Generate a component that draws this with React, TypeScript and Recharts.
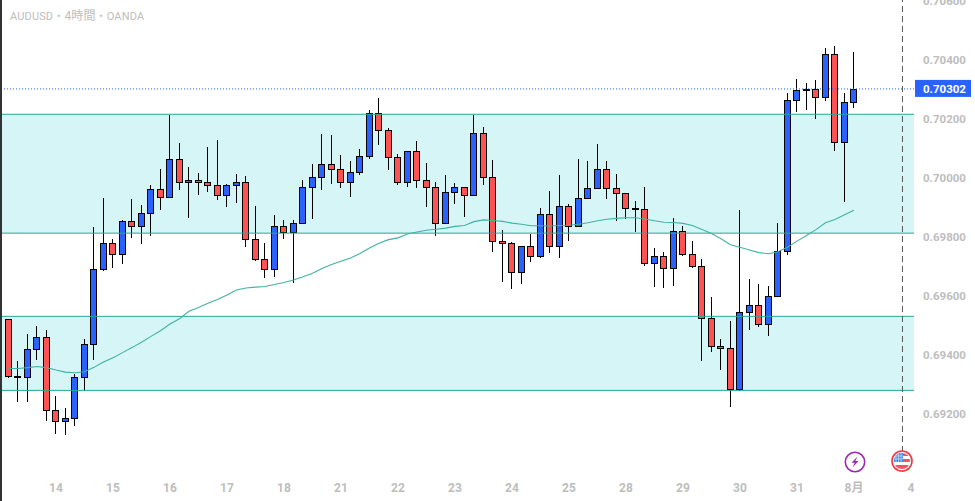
import {
  Bar,
  ComposedChart,
  Line,
  ReferenceArea,
  ReferenceLine,
  XAxis,
  YAxis,
} from 'recharts'

// prices in 1e-5 units, one entry per 4h candle
const opens = [
  69523, 69330, 69327, 69419, 69460, 69215, 69175, 69188, 69327, 69436,
  69690, 69778, 69744, 69853, 69836, 69880, 69961, 69934, 70063, 69985,
  69992, 69985, 69975, 69941, 69975, 69988, 69792, 69727, 69693, 69836,
  69816, 69846, 69968, 70005, 70046, 70032, 69988, 70019, 70076, 70222,
  70161, 70070, 69985, 70090, 69992, 69971, 69846, 69954, 69968, 69941,
  70151, 70005, 69788, 69778, 69680, 69768, 69734, 69877, 69768, 69904,
  69836, 69931, 69965, 70032, 69965, 69948, 69897, 69894, 69711, 69735,
  69694, 69819, 69741, 69701, 69524, 69430, 69423, 69284, 69545, 69569,
  69504, 69599, 69752, 70264, 70302, 70301, 70274, 70420, 70121, 70257,
]
const highs = [
  69523, 69379, 69470, 69498, 69484, 69261, 69220, 69334, 69454, 69834,
  69932, 69793, 69857, 69929, 69907, 69975, 70030, 70213, 70118, 70037,
  70017, 70105, 70129, 69978, 70013, 70007, 69905, 69779, 69874, 69857,
  69857, 69993, 70047, 70149, 70145, 70078, 70057, 70097, 70230, 70270,
  70169, 70080, 70093, 70127, 70050, 69988, 70010, 69982, 69968, 70213,
  70173, 70061, 69823, 69782, 69768, 69810, 69898, 69956, 70010, 69911,
  70066, 70057, 70115, 70057, 70013, 69948, 69922, 69970, 69763, 69749,
  69865, 69838, 69787, 69726, 69597, 69454, 69515, 69892, 69658, 69641,
  69634, 69848, 70287, 70336, 70322, 70333, 70441, 70448, 70287, 70427,
]
const lows = [
  69323, 69241, 69241, 69383, 69177, 69133, 69130, 69160, 69279, 69383,
  69686, 69696, 69709, 69797, 69777, 69804, 69891, 69934, 69959, 69865,
  69942, 69953, 69926, 69903, 69916, 69767, 69719, 69662, 69665, 69794,
  69645, 69846, 69862, 69960, 69980, 69967, 69936, 70011, 70065, 70111,
  70028, 69976, 69970, 69967, 69903, 69804, 69846, 69911, 69869, 69941,
  69977, 69750, 69648, 69625, 69642, 69716, 69730, 69747, 69730, 69787,
  69836, 69931, 69965, 69929, 69855, 69862, 69817, 69703, 69632, 69628,
  69635, 69736, 69696, 69378, 69411, 69350, 69222, 69277, 69483, 69496,
  69466, 69599, 69740, 70225, 70231, 70201, 70262, 70093, 69917, 70238,
]
const closes = [
  69330, 69327, 69419, 69460, 69215, 69175, 69188, 69327, 69436, 69690,
  69778, 69744, 69853, 69836, 69880, 69961, 69934, 70063, 69985, 69992,
  69985, 69975, 69941, 69975, 69988, 69792, 69727, 69693, 69836, 69816,
  69846, 69968, 70005, 70046, 70032, 69988, 70019, 70076, 70222, 70161,
  70070, 69985, 70090, 69992, 69971, 69846, 69954, 69968, 69941, 70151,
  70005, 69788, 69778, 69680, 69768, 69734, 69877, 69768, 69904, 69836,
  69931, 69965, 70032, 69965, 69948, 69897, 69894, 69711, 69735, 69694,
  69819, 69741, 69701, 69524, 69430, 69423, 69284, 69545, 69569, 69504,
  69599, 69752, 70264, 70298, 70300, 70274, 70420, 70121, 70257, 70302,
]
const maValues = [
  69354, 69354, 69357, 69361, 69357, 69349, 69342, 69340, 69343, 69358,
  69376, 69391, 69408, 69425, 69443, 69463, 69482, 69505, 69523, 69548,
  69561, 69575, 69588, 69603, 69620, 69627, 69630, 69632, 69639, 69646,
  69654, 69665, 69677, 69693, 69707, 69718, 69729, 69744, 69763, 69779,
  69791, 69797, 69810, 69817, 69823, 69826, 69830, 69836, 69839, 69852,
  69858, 69856, 69853, 69847, 69843, 69838, 69838, 69837, 69839, 69840,
  69843, 69848, 69855, 69860, 69863, 69865, 69865, 69861, 69855, 69850,
  69849, 69846, 69839, 69825, 69812, 69794, 69774, 69765, 69756, 69747,
  69743, 69750, 69765, 69786, 69805, 69825, 69848, 69859, 69875, 69891,
]

const dayTicks = [5, 11, 17, 23, 29, 35, 41, 47, 53, 59, 65, 71, 77, 83, 89, 95]
const dayLabels = ['14', '15', '16', '17', '18', '21', '22', '23', '24', '25', '28', '29', '30', '31', '8月', '4']
const priceTicks = [0.692, 0.694, 0.696, 0.698, 0.7, 0.702, 0.704, 0.706]
const bands = [
  [0.69813, 0.70216],
  [0.6928, 0.69531],
]
const lastPrice = 0.70302
const sessionBreak = 94.1

const UP = '#2962ff'
const DOWN = '#ff5252'
const TEAL = '#22ab94'
const GREY = '#bdbdbd'
const FONT = 'Roboto, "Noto Sans CJK JP", sans-serif'

const candles = opens.map((open, i) => ({
  i,
  open: open / 1e5,
  high: highs[i] / 1e5,
  low: lows[i] / 1e5,
  close: closes[i] / 1e5,
  range: [lows[i] / 1e5, highs[i] / 1e5],
  ma: maValues[i] / 1e5,
}))

function Candle(props: any) {
  const { x, y, width, height, payload } = props
  const perUnit = height / (payload.high - payload.low)
  const top = y + (payload.high - Math.max(payload.open, payload.close)) * perUnit
  const bottom = y + (payload.high - Math.min(payload.open, payload.close)) * perUnit
  const cx = Math.floor(x + width / 2)
  const bodyTop = Math.round(top)
  const bodyH = Math.max(1, Math.round(bottom) - bodyTop)
  return (
    <g shapeRendering="crispEdges">
      <rect x={cx} y={y} width={1} height={height} fill="#000" />
      <rect
        x={cx - 3 + 0.5}
        y={bodyTop + 0.5}
        width={6}
        height={bodyH}
        fill={payload.close >= payload.open ? UP : DOWN}
        stroke="#000"
      />
    </g>
  )
}

function PriceTag(props: any) {
  const { viewBox } = props
  const right = viewBox.x + viewBox.width
  return (
    <g>
      <rect x={right + 1} y={viewBox.y - 9} width={56} height={17} fill={UP} />
      <text x={right + 9} y={viewBox.y + 4} fill="#fff" fontSize={11.5} fontWeight={700} fontFamily={FONT}>
        {lastPrice.toFixed(5)}
      </text>
    </g>
  )
}

function Bolt() {
  return (
    <svg width={24} height={24} style={{ position: 'absolute', left: 843, top: 450 }}>
      <circle cx={12} cy={12} r={9.7} fill="#fff" stroke="#9c27b0" strokeWidth={1.6} />
      <path d="M14.5 6.5 L8.5 12.8 H11.7 L9.5 17.5 L15.5 11 H12.3 Z" fill="#9c27b0" />
    </svg>
  )
}

function Flag() {
  return (
    <svg width={24} height={24} style={{ position: 'absolute', left: 890, top: 449 }}>
      <defs>
        <clipPath id="flagClip">
          <circle cx={12} cy={12} r={8} />
        </clipPath>
      </defs>
      <circle cx={12} cy={12} r={10} fill="#fff" stroke="#f23645" strokeWidth={1.6} />
      <g clipPath="url(#flagClip)">
        <rect x={3} y={4} width={18} height={3} fill="#f7525f" />
        <rect x={3} y={10} width={18} height={3} fill="#f7525f" />
        <rect x={3} y={16} width={18} height={5} fill="#f7525f" />
        <rect x={3} y={4} width={10} height={9} fill="#3d8bf2" />
        <path d="M4 7 H13 M4 10 H13 M6 4 V13 M8.5 4 V13 M11 4 V13" stroke="#cfe3fb" strokeWidth={0.7} />
      </g>
    </svg>
  )
}

export default function App() {
  return (
    <div style={{ position: 'absolute', left: 0, top: 0, width: 975, height: 501, overflow: 'hidden', background: '#fff' }}>
      <ComposedChart
        width={975}
        height={501}
        data={candles}
        margin={{ top: 0, right: 0, bottom: 0, left: 0 }}
      >
        <XAxis
          dataKey="i"
          type="number"
          domain={[-0.895, 95.317]}
          allowDataOverflow
          ticks={dayTicks}
          interval={0}
          tickFormatter={(v: number) => dayLabels[dayTicks.indexOf(v)]}
          axisLine={false}
          tickLine={false}
          height={29}
          tickMargin={5}
          tick={{ fill: GREY, fontSize: 12, fontWeight: 700, fontFamily: FONT }}
        />
        <YAxis
          orientation="right"
          type="number"
          domain={[0.690033, 0.706034]}
          allowDataOverflow
          ticks={priceTicks}
          interval={0}
          tickFormatter={(v: number) => v.toFixed(5)}
          axisLine={false}
          tickLine={false}
          width={61}
          tickMargin={3}
          tick={{ fill: GREY, fontSize: 11.5, fontWeight: 700, fontFamily: FONT }}
        />
        {bands.map(([y1, y2]) => (
          <ReferenceArea key={y1} y1={y1} y2={y2} fill="#d6f5f7" fillOpacity={1} stroke="none" />
        ))}
        {bands.flat().map((y) => (
          <ReferenceLine key={y} y={y} stroke={TEAL} strokeWidth={1} />
        ))}
        <ReferenceLine x={sessionBreak} stroke="#555" strokeDasharray="6 4" />
        <Bar dataKey="range" barSize={7} shape={Candle} isAnimationActive={false} />
        <Line dataKey="ma" stroke="#3fb3a1" strokeWidth={1.1} dot={false} type="linear" isAnimationActive={false} />
        <ReferenceLine y={lastPrice} stroke={UP} strokeDasharray="1 2" label={PriceTag} />
      </ComposedChart>
      <div style={{ position: 'absolute', left: 0, top: 0, width: 2, height: 501, background: '#333' }} />
      <div style={{ position: 'absolute', left: 10, top: 6, font: `11px ${FONT}`, letterSpacing: 0.15, color: GREY, whiteSpace: 'nowrap' }}>
        AUDUSD・<span style={{ fontSize: 12 }}>4時間</span>・OANDA
      </div>
      <Bolt />
      <Flag />
    </div>
  )
}
